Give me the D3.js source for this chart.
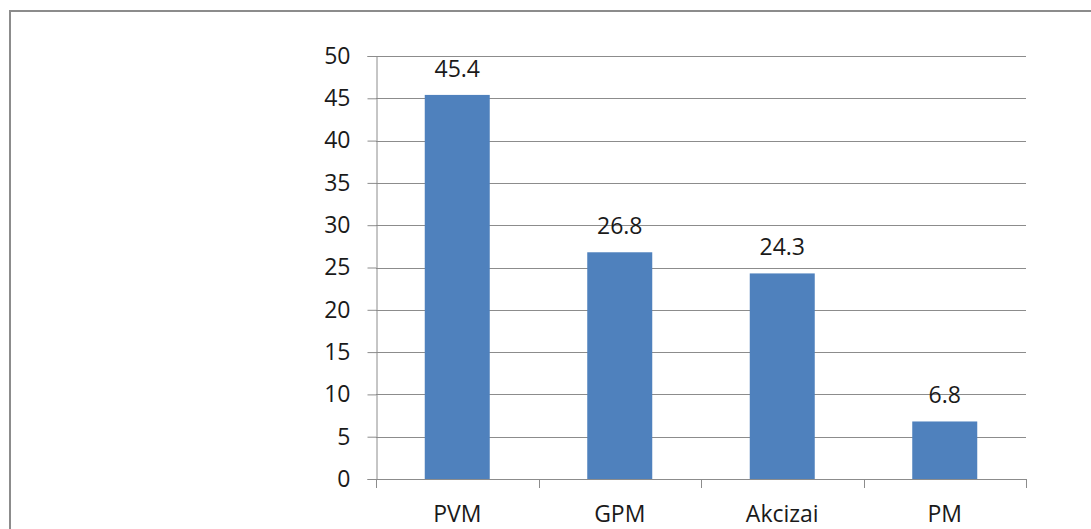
<!DOCTYPE html>
<html><head><meta charset="utf-8">
<script src="https://cdn.jsdelivr.net/npm/d3@7/dist/d3.min.js"></script>
<style>body{margin:0;background:#fff;} svg{display:block;}</style>
</head><body>
<svg id="c" width="1091" height="529"></svg>
<script>
const categories = ["PVM", "GPM", "Akcizai", "PM"];
const values = [45.4, 26.8, 24.3, 6.8];
const yTicks = [0, 5, 10, 15, 20, 25, 30, 35, 40, 45, 50];

const svg = d3.select("#c");
const font = "'Open Sans', sans-serif";
// outer border
svg.append("rect").attr("x", 10).attr("y", 11).attr("width", 1100).attr("height", 540)
  .attr("fill", "none").attr("stroke", "#8c8c8c").attr("stroke-width", 2);

const pLeft = 376, pRight = 1026, pTop = 56, pBottom = 479;
const x = d3.scaleBand().domain(categories).range([pLeft, pRight]).paddingInner(0.6).paddingOuter(0.3);
const y = d3.scaleLinear().domain([0, 50]).range([pBottom, pTop]);

// gridlines
svg.append("g").selectAll("line").data(yTicks.filter(d => d > 0)).join("line")
  .attr("x1", pLeft).attr("x2", pRight)
  .attr("y1", d => Math.round(y(d)) + 0.5).attr("y2", d => Math.round(y(d)) + 0.5)
  .attr("stroke", "#8c8c8c").attr("stroke-width", 1);

// bars
svg.append("g").selectAll("rect").data(values).join("rect")
  .attr("x", (d, i) => x(categories[i])).attr("width", x.bandwidth())
  .attr("y", d => y(d)).attr("height", d => y(0) - y(d))
  .attr("fill", "#4f81bd");

// y axis
const yAxis = d3.axisLeft(y).tickValues(yTicks).tickSize(9).tickPadding(17);
const gy = svg.append("g").attr("transform", `translate(${pLeft + 0.5},0)`).call(yAxis);
gy.select(".domain").attr("stroke", "#8c8c8c");
gy.selectAll(".tick line").attr("stroke", "#8c8c8c");
gy.selectAll(".tick text").attr("font-family", font).attr("font-size", 23).attr("fill", "#1a1a1a");

// x axis
const xAxis = d3.axisBottom(x).tickSize(0).tickPadding(26);
const gx = svg.append("g").attr("transform", `translate(0,${pBottom + 0.5})`).call(xAxis);
gx.select(".domain").attr("stroke", "#8c8c8c").attr("d", `M${pLeft},0H${pRight}`);
gx.selectAll(".tick text").attr("font-family", font).attr("font-size", 23).attr("fill", "#1a1a1a");
// category boundary ticks
const bounds = d3.range(categories.length + 1).map(i => pLeft + i * x.step());
svg.append("g").selectAll("line").data(bounds).join("line")
  .attr("x1", d => Math.round(d) + 0.5).attr("x2", d => Math.round(d) + 0.5)
  .attr("y1", pBottom).attr("y2", pBottom + 9)
  .attr("stroke", "#8c8c8c");

// value labels
svg.append("g").selectAll("text").data(values).join("text")
  .attr("x", (d, i) => x(categories[i]) + x.bandwidth() / 2)
  .attr("y", d => y(d) - 18)
  .attr("text-anchor", "middle")
  .attr("font-family", font).attr("font-size", 23).attr("fill", "#1a1a1a")
  .text(d => d.toFixed(1));
</script>
</body></html>
